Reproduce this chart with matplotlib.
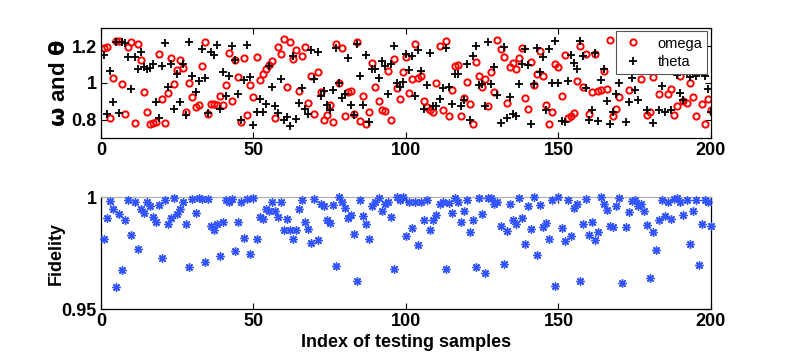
import numpy as np
import matplotlib
matplotlib.use('Agg')
import matplotlib.pyplot as plt

# estimated parameters for each test sample
omega = [1.19, 1.195, 0.81, 1.026, 1.228, 1.228, 0.994, 0.83, 1.197, 1.22,
         0.78, 1.21, 1.125, 0.949, 0.84, 0.777, 0.783, 0.788, 1.156, 0.914,
         0.78, 0.943, 1.138, 0.994, 1.07, 1.125, 1.08, 0.84, 1.0, 0.925,
         0.87, 0.88, 1.09, 1.22, 0.83, 0.886, 0.886, 0.882, 0.93, 0.88,
         0.987, 1.16, 0.9, 1.127, 1.03, 0.787, 1.134, 0.825, 0.987, 0.925,
         1.14, 1.015, 1.048, 1.073, 1.095, 1.12, 0.806, 1.197, 1.156, 1.237,
         0.976, 1.22, 1.13, 1.18, 0.954, 1.144, 1.195, 0.89, 1.04, 0.83,
         1.058, 0.95, 0.8, 0.825, 0.877, 0.788, 1.21, 1.0, 1.19, 0.82,
         0.95, 0.958, 0.83, 1.22, 0.79, 0.93, 0.774, 0.84, 1.11, 0.98,
         0.9, 0.85, 0.847, 1.062, 0.8, 1.13, 0.97, 0.91, 1.06, 1.14,
         0.943, 1.019, 1.214, 1.026, 1.04, 0.9, 0.87, 0.85, 0.84, 1.0,
         1.2, 0.85, 1.227, 0.817, 0.96, 1.09, 1.098, 0.82, 0.92, 1.005,
         0.887, 0.777, 1.116, 1.037, 0.98, 1.023, 0.875, 1.058, 0.95, 1.233,
         1.183, 1.14, 0.89, 1.086, 1.107, 1.075, 1.134, 1.19, 0.92, 0.856,
         1.116, 0.99, 1.05, 1.174, 1.037, 0.88, 0.777, 0.84, 1.1, 1.087,
         0.93, 1.15, 0.806, 0.82, 0.835, 1.012, 1.2, 0.98, 1.156, 0.828,
         0.95, 1.156, 0.958, 0.96, 1.062, 0.968, 1.232, 0.817, 0.855, 0.925,
         1.21, 1.112, 0.963, 1.235, 1.15, 1.094, 1.023, 1.08, 0.825, 0.842,
         1.03, 1.084, 0.94, 1.1, 1.15, 0.94, 0.965, 0.825, 0.875, 1.04,
         0.9, 0.89, 1.0, 0.925, 0.817, 1.1, 0.886, 0.777, 0.91, 0.85]

theta = [1.15, 0.83, 1.066, 0.896, 1.22, 0.837, 1.22, 1.217, 1.14, 0.967,
         1.14, 1.076, 1.17, 1.087, 1.076, 1.083, 1.1, 0.896, 0.81, 1.09,
         1.215, 0.98, 1.1, 0.855, 1.05, 0.896, 1.1, 0.825, 1.22, 1.04,
         0.95, 1.008, 1.185, 1.026, 0.835, 1.166, 1.15, 1.206, 0.857, 1.06,
         0.93, 1.036, 1.2, 1.127, 0.94, 0.8, 1.017, 1.206, 1.033, 0.77,
         0.84, 0.914, 0.84, 0.887, 1.09, 0.98, 0.875, 0.835, 1.023, 0.8,
         0.814, 0.765, 1.148, 0.805, 0.89, 0.972, 0.86, 0.83, 1.177, 1.023,
         1.17, 0.93, 0.954, 0.88, 0.85, 0.963, 1.19, 0.997, 0.92, 0.94,
         1.134, 0.88, 0.825, 1.213, 1.037, 0.88, 1.152, 0.788, 1.073, 1.073,
         1.026, 1.12, 1.09, 0.94, 1.1, 1.2, 0.997, 0.98, 1.005, 1.156,
         1.07, 1.148, 0.93, 1.18, 1.062, 0.86, 0.987, 1.163, 0.875, 0.875,
         0.914, 0.97, 1.19, 0.975, 0.886, 1.047, 1.05, 0.872, 0.907, 1.1,
         0.8, 1.148, 1.203, 0.99, 0.993, 0.875, 1.224, 0.996, 1.084, 0.936,
         0.78, 1.195, 0.81, 0.925, 0.83, 0.817, 0.993, 1.1, 1.187, 1.095,
         0.777, 0.993, 1.19, 1.058, 1.14, 0.85, 1.185, 0.997, 1.228, 0.997,
         0.79, 0.785, 1.012, 1.152, 1.107, 1.076, 1.228, 1.148, 0.972, 0.8,
         0.85, 1.16, 0.79, 1.015, 1.073, 0.9, 0.774, 0.84, 0.94, 0.997,
         1.22, 0.788, 0.895, 1.026, 0.963, 0.905, 1.084, 1.087, 0.853, 1.18,
         0.78, 1.07, 0.853, 0.983, 0.84, 1.073, 0.853, 1.2, 1.044, 0.947,
         0.907, 1.058, 1.033, 1.15, 1.037, 1.2, 1.18, 1.04, 0.968, 0.84]

fidelity = [0.9812, 0.9905, 0.9982, 0.9946, 0.9597, 0.9925, 0.9675, 0.9896, 0.9988, 0.983,
            0.9976, 0.9767, 0.9946, 0.9931, 0.9979, 0.9961, 0.9913, 0.989, 0.9964, 0.9727,
            0.9988, 0.9878, 0.9905, 0.9994, 0.9925, 0.9949, 0.9976, 0.9878, 0.9687, 0.9991,
            0.9931, 0.9994, 0.9991, 0.9708, 0.9991, 0.9872, 0.9854, 0.9878, 0.9737, 0.989,
            0.9985, 0.9979, 0.9991, 0.9758, 0.989, 0.9979, 0.9818, 0.9991, 0.9746, 0.9997,
            0.9815, 0.9913, 0.9902, 0.9946, 0.9937, 0.9976, 0.994, 0.991, 0.9976, 0.9854,
            0.9902, 0.9851, 0.9815, 0.9851, 0.9949, 0.9988, 0.9887, 0.9857, 0.9794, 0.9991,
            0.9809, 0.997, 0.9961, 0.9899, 0.9884, 0.9964, 0.969, 1.0, 0.9976, 0.9952,
            0.9905, 0.9922, 0.9833, 0.9627, 0.9988, 0.9916, 0.9881, 0.9815, 0.9961, 0.9976,
            0.9997, 0.9937, 0.9967, 0.9976, 0.9913, 0.9678, 1.0, 0.9988, 1.0, 0.9827,
            0.9979, 0.9863, 0.9976, 0.9788, 0.9979, 0.9899, 0.9988, 0.9854, 0.9899, 0.9919,
            0.997, 0.9979, 0.9681, 0.9973, 0.9928, 0.9997, 0.9979, 0.989, 0.9937, 0.9988,
            0.9842, 0.9899, 0.9687, 0.9997, 0.9925, 0.966, 0.9994, 0.9997, 0.9967, 0.9976,
            0.9872, 0.9702, 0.9848, 0.997, 0.9899, 0.9881, 0.9994, 0.9907, 0.9791, 0.9961,
            0.9857, 1.0, 0.9743, 0.9964, 0.9866, 0.9884, 0.9812, 0.9988, 0.9605, 1.0,
            0.9863, 0.9806, 0.9988, 0.9824, 0.9952, 0.997, 0.9627, 0.9881, 0.9991, 0.983,
            0.989, 0.9809, 0.9842, 1.0, 0.9967, 0.9943, 0.9869, 0.9866, 0.9961, 0.9994,
            0.9615, 0.9866, 0.9934, 0.9982, 0.9985, 0.9961, 0.9967, 0.994, 0.9875, 0.9639,
            0.9845, 0.9764, 0.9896, 0.9988, 0.9916, 0.9979, 0.9902, 0.9991, 0.9994, 0.9979,
            0.9919, 0.9988, 0.9791, 0.994, 0.9988, 0.9696, 0.9878, 0.9985, 0.9979, 0.9869]

samples = np.arange(1, len(omega) + 1)
x_ticks = [0, 50, 100, 150, 200]

plt.rcParams['font.family'] = ['Liberation Sans', 'DejaVu Sans']
plt.rcParams['font.weight'] = 'bold'


def matlab_axes(ax):
    ax.tick_params(direction='in', top=True, right=True, length=4, width=0.8,
                   labelsize=13, pad=3)
    for lab in ax.get_xticklabels() + ax.get_yticklabels():
        lab.set_fontweight('bold')
    for sp in ax.spines.values():
        sp.set_linewidth(0.9)


fig = plt.figure(figsize=(7.86, 3.61), dpi=100)
ax1 = fig.add_axes([0.1285, 0.618, 0.776, 0.305])
ax2 = fig.add_axes([0.1285, 0.144, 0.776, 0.310])

ax1.plot(samples, omega, 'o', mfc='none', mec='red', ms=4.5, mew=1.4, label='omega')
ax1.plot(samples, theta, '+', color='black', ms=6, mew=1.3, label='theta')
ax1.set_xlim(0, 200)
ax1.set_ylim(0.7, 1.3)
ax1.set_xticks(x_ticks)
ax1.set_yticks([0.8, 1.0, 1.2])
ax1.set_yticklabels(['0.8', '1', '1.2'])
ax1.set_ylabel(r'$\mathbf{\omega}$ and $\mathbf{\theta}$', fontsize=16, fontweight='bold', labelpad=1)
matlab_axes(ax1)
leg = ax1.legend(loc='upper right', fontsize=10.5, frameon=True, fancybox=False,
                 framealpha=1, edgecolor='#555555', borderaxespad=0.25,
                 handletextpad=0.9, handlelength=1.6, numpoints=1,
                 borderpad=0.35, labelspacing=0.3)
for t in leg.get_texts():
    t.set_fontweight('normal')
leg.get_frame().set_linewidth(0.8)

ax2.plot(samples, fidelity, linestyle='none', marker=(8, 2, 0), color='#3355ff',
         ms=6, mew=1.0, clip_on=False, zorder=3)
ax2.set_xlim(0, 200)
ax2.set_ylim(0.95, 1.0)
ax2.set_xticks(x_ticks)
ax2.set_yticks([0.95, 1.0])
ax2.set_yticklabels(['0.95', '1'])
ax2.spines['top'].set_color('#b0b0b0')
ax2.spines['top'].set_linewidth(1.8)
ax2.set_ylabel('Fidelity', fontsize=13, fontweight='bold', labelpad=-2)
ax2.set_xlabel('Index of testing samples', fontsize=13, fontweight='bold', labelpad=3)
matlab_axes(ax2)

fig.savefig('out.png', dpi=100)
